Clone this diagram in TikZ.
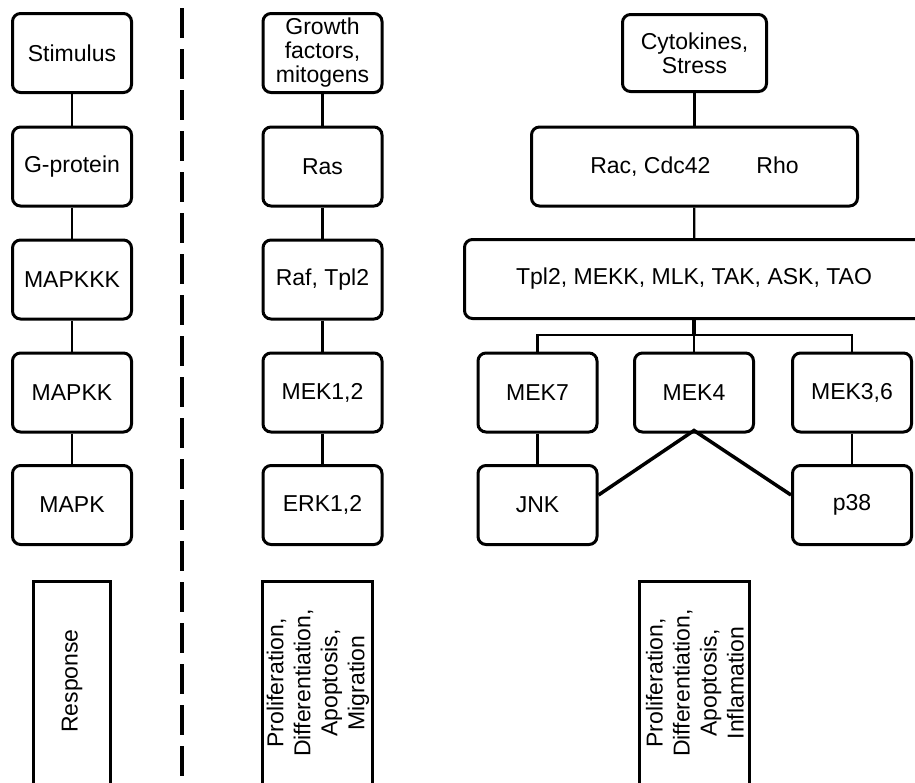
\documentclass[tikz,border=0pt]{standalone}
\usepackage{fontspec}
\setmainfont{Liberation Sans}
\begin{document}
\begin{tikzpicture}[x=1pt,y=-1pt,
  box/.style={draw, line width=3pt, rounded corners=8pt, minimum width=119pt, minimum height=79pt,
    align=center, inner sep=0pt, font=\fontsize{23}{24}\selectfont},
  rbox/.style={draw, line width=3pt, anchor=north, minimum height=260pt, inner sep=0pt},
  rtext/.style={rotate=90, align=center, inner sep=0pt, font=\fontsize{23}{27}\selectfont},
  conn/.style={line width=2.3pt},
  heavy/.style={line width=3.5pt},
  dashline/.style={line width=3.3pt, dash pattern=on 30pt off 11pt}]
\useasboundingbox (0,0) rectangle (915,782);

% left column
\node[box] (stim) at (72,53) {Stimulus};
\node[box] (gp) at (72,166.5) {G-protein};
\node[box] (mkkk) at (72,279.5) {MAPKKK};
\node[box] (mkk) at (72,392.5) {MAPKK};
\node[box] (mk) at (72,505) {MAPK};
\draw[conn] (stim) -- (gp);
\draw[conn] (gp) -- (mkkk);
\draw[conn] (mkkk) -- (mkk);
\draw[conn] (mkk) -- (mk);
\node[rbox, minimum width=77pt] (resp) at (72,579.5) {};
\node[rtext] (respt) at (72,681) {Response};

% dashed separator
\coordinate (dtop) at (182,8);
\coordinate (dbot) at (182,800);
\draw[dashline] (dtop) -- (dbot);

% middle column
\node[box] (gf) at (322.5,53) {Growth\\factors,\\mitogens};
\node[box] (ras) at (322.5,166.5) {Ras};
\node[box] (raf) at (322.5,279.5) {Raf, Tpl2};
\node[box] (mek12) at (322.5,392.5) {MEK1,2};
\node[box] (erk) at (322.5,505) {ERK1,2};
\draw[conn] (gf) -- (ras);
\draw[conn] (ras) -- (raf);
\draw[conn] (raf) -- (mek12);
\draw[conn] (mek12) -- (erk);
\node[rbox, minimum width=110pt] (mresp) at (317.5,579.5) {};
\node[rtext] (mrespt) at (318,683) {Proliferation,\\Differentiation,\\Apoptosis,\\Migration};

% right part
\node[box, minimum width=144pt, minimum height=77pt] (cyto) at (694.5,53) {Cytokines,\\Stress};
\node[box, minimum width=326pt] (rac) at (694.5,166.5) {Rac, Cdc42\hspace{2em}Rho};
\node[box, minimum width=459pt] (tpl) at (694,279) {Tpl2, MEKK, MLK, TAK, ASK, TAO};
\node[box] (mek7) at (537.5,392.5) {MEK7};
\node[box] (mek4) at (694,392.5) {MEK4};
\node[box] (mek36) at (852,392.5) {MEK3,6};
\node[box] (jnk) at (537.5,505) {JNK};
\node[box] (p38) at (852,505) {p38};
\draw[conn] (cyto) -- (rac);
\draw[conn] (rac) -- (tpl);
\coordinate (bj) at (694,335);
\draw[heavy] (tpl.south) -- (bj);
\draw[conn] (mek7.north) |- (bj) -| (mek36.north);
\draw[conn] (bj) -- (mek4.north);
\draw[conn] (mek7) -- (jnk);
\draw[conn] (mek36) -- (p38);
\draw[heavy] ([yshift=10pt]jnk.east) -- ([yshift=3pt]mek4.south) -- ([yshift=10pt]p38.west);
\node[rbox, minimum width=110pt] (rresp) at (694.5,579.5) {};
\node[rtext] (rrespt) at (695,683) {Proliferation,\\Differentiation,\\Apoptosis,\\Inflamation};
\end{tikzpicture}
\end{document}
